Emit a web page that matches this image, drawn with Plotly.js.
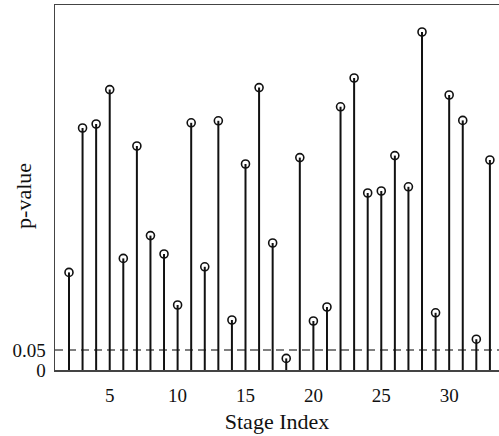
<!DOCTYPE html>
<html>
<head>
<meta charset="utf-8">
<script src="https://cdn.plot.ly/plotly-3.0.1.min.js"></script>
<style>html,body{margin:0;padding:0;background:#fff;overflow:hidden}</style>
</head>
<body>
<div id="chart" style="width:499px;height:436px"></div>
<script>
const stageIndex = [2,3,4,5,6,7,8,9,10,11,12,13,14,15,16,17,18,19,20,21,22,23,24,25,26,27,28,29,30,31,32,33];
const pValues = [0.244,0.605,0.615,0.701,0.279,0.56,0.336,0.29,0.1625,0.618,0.258,0.623,0.125,0.515,
                 0.706,0.3175,0.029,0.531,0.1225,0.1575,0.658,0.73,0.4425,0.4475,0.536,0.458,0.845,0.143,0.6875,0.624,0.077,0.525];
const threshold = 0.05;
const yTickVals = [0, 0.05];
const yTickText = ['0', '0.05'];
const xTickVals = [5,10,15,20,25,30];

const serif = 'Liberation Serif';

const traces = [
  {
    x: stageIndex,
    y: pValues,
    type: 'scatter',
    mode: 'markers',
    marker: {symbol: 'circle-open', size: 8, color: '#111', line: {width: 1.6, color: '#111'}},
    error_y: {type: 'data', symmetric: false, array: pValues.map(() => 0), arrayminus: pValues, width: 0, thickness: 2, color: '#111'},
    showlegend: false,
    hoverinfo: 'x+y'
  }
];

const layout = {
  width: 499, height: 436,
  margin: {l: 55, r: 0, t: 5, b: 66},
  paper_bgcolor: '#fff', plot_bgcolor: '#fff',
  font: {family: serif, color: '#111', size: 16},
  xaxis: {
    range: [0.97, 33.67],
    tickvals: xTickVals,
    ticks: '', showgrid: false, zeroline: false,
    showline: true, linecolor: '#444', linewidth: 1.5, mirror: true,
    ticklabelstandoff: 8,
    tickfont: {family: serif, size: 19, color: '#111'},
    title: {text: 'Stage Index', font: {family: serif, size: 22, color: '#111'}, standoff: 8}
  },
  yaxis: {
    range: [0, 0.9125],
    tickvals: yTickVals, ticktext: yTickText,
    ticks: '', showgrid: false, zeroline: false,
    showline: true, linecolor: '#444', linewidth: 1.5, mirror: false,
    ticklabelstandoff: 4,
    tickfont: {family: serif, size: 19, color: '#111'}
  },
  annotations: [
    {text: 'p-value', xref: 'paper', yref: 'paper', x: -0.0698, y: 0.477,
     xanchor: 'center', yanchor: 'middle', textangle: -90, showarrow: false,
     font: {family: serif, size: 22, color: '#111'}}
  ],
  shapes: [
    {type: 'line', xref: 'paper', x0: 0, x1: 1, yref: 'y', y0: threshold, y1: threshold,
     line: {color: '#555', width: 1.3, dash: '8px,5px'}, layer: 'below'}
  ]
};

Plotly.newPlot('chart', traces, layout, {displayModeBar: false, staticPlot: true});
</script>
</body>
</html>
